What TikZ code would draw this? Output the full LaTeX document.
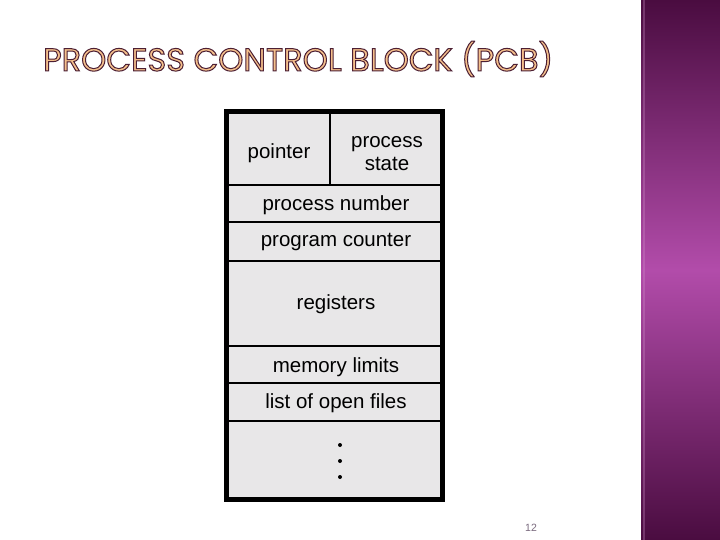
\documentclass[tikz,border=0pt]{standalone}
\usepackage{fontspec}
\setmainfont{Liberation Sans}
\newfontfamily\titlefont{Poppins}
\definecolor{cellfill}{HTML}{E8E7E8}
\definecolor{titlefill}{HTML}{F5C08C}
\definecolor{stripetop}{HTML}{4A0C40}
\definecolor{stripemid}{HTML}{B24CAA}
\definecolor{pagenum}{HTML}{7A6A7E}
\newcommand{\outlinedtitle}[1]{{\color{titlefill}\special{pdf:literal direct 2 Tr 1 w 0.30 0.12 0.20 RG}#1\special{pdf:literal direct 0 Tr}}}
\begin{document}
\begin{tikzpicture}[x=1pt,y=-1pt,
  celltext/.style={font=\fontsize{20.5}{23}\selectfont, align=center, inner sep=0pt},
  divider/.style={line width=1.6pt, black},
  frame/.style={line width=5pt, black, fill=cellfill},
  dot/.style={circle, fill=black, inner sep=0pt, minimum size=4pt}]
\useasboundingbox (0,0) rectangle (720,540);
\fill[white] (0,0) rectangle (720,540);
% right stripe
\shade[top color=stripetop, bottom color=stripemid] (641,0) rectangle (720,270);
\shade[top color=stripemid, bottom color=stripetop] (641,270) rectangle (720,540);
\draw[stripemid!60!white, opacity=0.3, line width=1.2pt] (644,0) -- (644,540);
% title
\node[anchor=west, inner sep=0pt] (title) at (43,59)
  {\titlefont\fontsize{32}{36}\selectfont\outlinedtitle{PROCESS CONTROL BLOCK (PCB)}};
% frame
\node[frame, draw, minimum width=216pt, minimum height=388pt, inner sep=0pt] (pcb) at (334.5,305.5) {};
% dividers
\coordinate (l1) at (229,185); \coordinate (r1) at (440,185);
\coordinate (l2) at (229,222); \coordinate (r2) at (440,222);
\coordinate (l3) at (229,261); \coordinate (r3) at (440,261);
\coordinate (l4) at (229,346); \coordinate (r4) at (440,346);
\coordinate (l5) at (229,383); \coordinate (r5) at (440,383);
\coordinate (l6) at (229,421); \coordinate (r6) at (440,421);
\coordinate (vt) at (330,114); \coordinate (vb) at (330,185);
\foreach \i in {1,...,6} { \draw[divider] (l\i) -- (r\i); }
\draw[divider] (vt) -- (vb);
% texts
\node[celltext] (pointer) at (279,153) {pointer};
\node[celltext] (state) at (387,154) {process\\state};
\node[celltext] (pnum) at (336,205) {process number};
\node[celltext] (pc) at (336,242) {program counter};
\node[celltext] (regs) at (336,304) {registers};
\node[celltext] (mem) at (336,367) {memory limits};
\node[celltext] (files) at (336,403) {list of open files};
\node[dot] (d1) at (340,445) {};
\node[dot] (d2) at (340,461) {};
\node[dot] (d3) at (340,477) {};
% page number
\node[text=pagenum, font=\fontsize{10.5}{12}\selectfont] (page) at (531,528) {12};
\end{tikzpicture}
\end{document}
